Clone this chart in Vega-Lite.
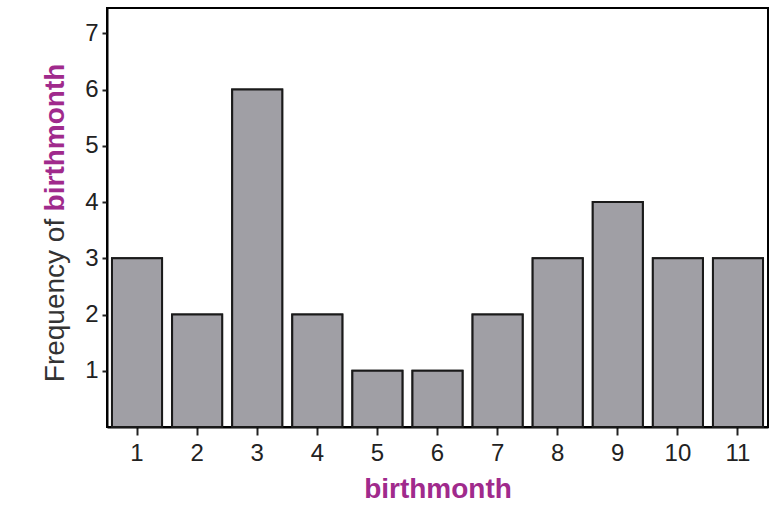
{
  "$schema": "https://vega.github.io/schema/vega-lite/v6.json",
  "width": 661,
  "height": 419,
  "autosize": {"type": "none"},
  "padding": {"left": 107, "top": 8, "right": 10, "bottom": 83},
  "background": "#ffffff",
  "config": {
    "font": "Liberation Sans",
    "view": {"stroke": "#000000", "strokeWidth": 2},
    "axis": {"grid": false}
  },
  "data": {
    "values": [
      {"birthmonth": 1, "count": 3},
      {"birthmonth": 2, "count": 2},
      {"birthmonth": 3, "count": 6},
      {"birthmonth": 4, "count": 2},
      {"birthmonth": 5, "count": 1},
      {"birthmonth": 6, "count": 1},
      {"birthmonth": 7, "count": 2},
      {"birthmonth": 8, "count": 3},
      {"birthmonth": 9, "count": 4},
      {"birthmonth": 10, "count": 3},
      {"birthmonth": 11, "count": 3}
    ]
  },
  "layer": [
    {
      "mark": {"type": "bar", "fill": "#a09fa5", "stroke": "#1a1a1a", "strokeWidth": 2},
      "encoding": {
        "x": {
          "field": "birthmonth",
          "type": "ordinal",
          "scale": {"paddingInner": 0.167, "paddingOuter": 0.083},
          "axis": {
            "title": "birthmonth",
            "titleColor": "#a02a8c",
            "titleFontSize": 28,
            "titleFontWeight": "bold",
            "titlePadding": 10,
            "labelAngle": 0,
            "labelFontSize": 24,
            "labelColor": "#222222",
            "labelPadding": 6,
            "tickSize": 8,
            "tickWidth": 2,
            "tickColor": "#222222",
            "domainColor": "#000000",
            "domainWidth": 2
          }
        },
        "y": {
          "field": "count",
          "type": "quantitative",
          "scale": {"domain": [0, 7.45], "nice": false},
          "axis": {
            "orient": "left",
            "title": "Frequency of",
            "titleColor": "#333333",
            "titleFontSize": 28,
            "titleFontWeight": "normal",
            "titleAngle": -90,
            "titleAlign": "center",
            "titleBaseline": "middle",
            "titleX": -52,
            "titleY": 292,
            "values": [1, 2, 3, 4, 5, 6, 7],
            "labelFontSize": 24,
            "labelColor": "#222222",
            "labelPadding": 4,
            "tickSize": 5,
            "tickWidth": 2,
            "tickColor": "#222222",
            "domainColor": "#000000",
            "domainWidth": 2
          }
        }
      }
    },
    {
      "mark": {"type": "bar", "fill": "#a09fa5", "stroke": "#1a1a1a", "strokeWidth": 2},
      "encoding": {
        "x": {"field": "birthmonth", "type": "ordinal"},
        "y": {
          "field": "count",
          "type": "quantitative",
          "axis": {
            "orient": "left",
            "title": "birthmonth",
            "titleColor": "#a02a8c",
            "titleFontSize": 28,
            "titleFontWeight": "bold",
            "titleAngle": -90,
            "titleAlign": "center",
            "titleBaseline": "middle",
            "titleX": -52,
            "titleY": 129,
            "labels": false,
            "ticks": false,
            "domain": false,
            "offset": 0
          }
        }
      }
    }
  ],
  "resolve": {"axis": {"y": "independent"}}
}
